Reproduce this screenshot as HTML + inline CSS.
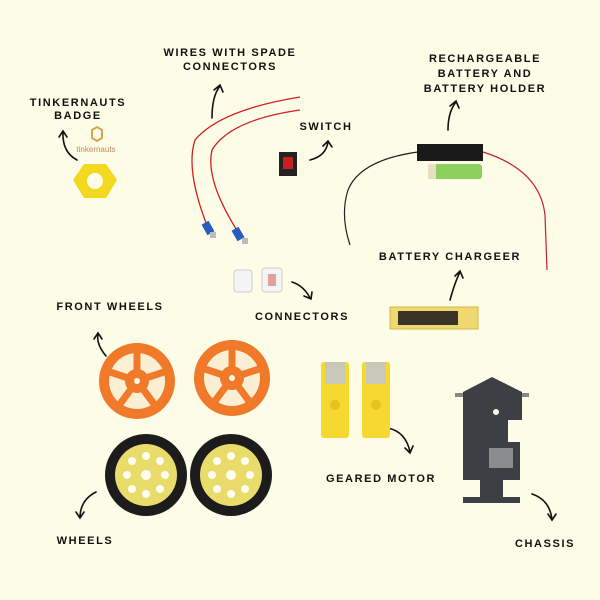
<!DOCTYPE html>
<html><head><style>
html,body{margin:0;padding:0;background:#fdfce6;}
svg{display:block}
text{font-family:"Liberation Sans",sans-serif;font-weight:bold;font-size:11px;letter-spacing:1.6px;fill:#111;text-anchor:middle}
.a{fill:none;stroke:#111;stroke-width:1.6;stroke-linecap:round}
</style></head><body>
<svg width="600" height="600" viewBox="0 0 600 600">
<rect width="600" height="600" fill="#fdfce6"/>
<text x="230" y="56">WIRES WITH SPADE</text>
<text x="230" y="70">CONNECTORS</text>
<text x="78" y="106">TINKERNAUTS</text>
<text x="78" y="119">BADGE</text>
<text x="326" y="130">SWITCH</text>
<text x="485" y="62">RECHARGEABLE</text>
<text x="485" y="77">BATTERY AND</text>
<text x="485" y="92">BATTERY HOLDER</text>
<text x="450" y="260">BATTERY CHARGEER</text>
<text x="110" y="310">FRONT WHEELS</text>
<text x="302" y="320">CONNECTORS</text>
<text x="381" y="482">GEARED MOTOR</text>
<text x="85" y="544">WHEELS</text>
<text x="545" y="547">CHASSIS</text>
<path class="a" d="M212 118 Q212 96 220 86 M214 90 L220 85 L223 92"/>
<path class="a" d="M77 160 Q62 152 63 132 M59 137 L63 131 L67 137"/>
<path class="a" d="M310 160 Q326 156 328 142 M323 146 L328 141 L332 147"/>
<path class="a" d="M448 130 Q448 112 456 102 M450 106 L456 101 L459 108"/>
<path class="a" d="M450 300 Q455 282 460 272 M455 276 L460 271 L463 278"/>
<path class="a" d="M292 282 Q304 286 310 298 M304 296 L311 299 L312 292"/>
<path class="a" d="M106 356 Q96 344 98 334 M94 339 L98 333 L102 339"/>
<path class="a" d="M388 428 Q406 432 410 452 M405 448 L410 453 L413 446"/>
<path class="a" d="M96 492 Q80 500 80 518 M76 512 L80 518 L84 512"/>
<path class="a" d="M532 494 Q550 500 552 520 M548 514 L552 520 L556 514"/>
<path d="M92 130 l5 -3 l5 3 v8 l-5 3 l-5 -3z" fill="none" stroke="#d9a455" stroke-width="2"/>
<text x="96" y="152" style="font-size:8px;font-weight:normal;letter-spacing:0;fill:#c58a5a">tinkernauts</text>
<polygon points="84,164 106,164 117,180 106,198 84,198 73,180" fill="#f3d820"/>
<circle cx="95" cy="181" r="8" fill="#fdfce6"/>
<path d="M300 97 Q220 110 195 140 Q185 170 208 228" fill="none" stroke="#d02020" stroke-width="1.3"/>
<path d="M300 110 Q230 120 212 150 Q205 180 238 232" fill="none" stroke="#d02020" stroke-width="1.3"/>
<rect x="204" y="222" width="8" height="12" fill="#2a5cc0" transform="rotate(-30 208 228)"/>
<rect x="234" y="228" width="8" height="12" fill="#2a5cc0" transform="rotate(-30 238 234)"/>
<rect x="210" y="232" width="6" height="6" fill="#bbb"/>
<rect x="242" y="238" width="6" height="6" fill="#bbb"/>
<rect x="279" y="152" width="18" height="24" fill="#222"/>
<rect x="283" y="157" width="10" height="12" fill="#c82020"/>
<path d="M418 152 Q360 160 348 190 Q340 215 350 245" fill="none" stroke="#222" stroke-width="1.2"/>
<path d="M483 152 Q540 170 545 215 L547 270" fill="none" stroke="#c02030" stroke-width="1.2"/>
<rect x="417" y="144" width="66" height="17" fill="#1a1a1a"/>
<rect x="428" y="164" width="54" height="15" rx="3" fill="#8ed060"/>
<rect x="428" y="164" width="8" height="15" fill="#e8e0c0"/>
<rect x="234" y="270" width="18" height="22" rx="3" fill="#f4f4f4" stroke="#ccc"/>
<rect x="262" y="268" width="20" height="24" rx="3" fill="#f4f4f4" stroke="#ccc"/>
<rect x="268" y="274" width="8" height="12" fill="#e0a0a0"/>
<rect x="390" y="307" width="88" height="22" fill="#f0d870" stroke="#d8b840"/>
<rect x="398" y="311" width="60" height="14" fill="#3a3428"/>
<g fill="#f07a2a"><circle cx="137" cy="381" r="38"/><circle cx="232" cy="378" r="38"/></g>
<g fill="#fdfce6" opacity="0.9"><circle cx="137" cy="381" r="28"/><circle cx="232" cy="378" r="28"/></g>
<g stroke="#f07a2a" stroke-width="7">
<path d="M137 381 v-28 M137 381 l27 -9 M137 381 l17 23 M137 381 l-17 23 M137 381 l-27 -9"/>
<path d="M232 378 v-28 M232 378 l27 -9 M232 378 l17 23 M232 378 l-17 23 M232 378 l-27 -9"/>
</g>
<circle cx="137" cy="381" r="12" fill="#f07a2a"/><circle cx="232" cy="378" r="12" fill="#f07a2a"/>
<circle cx="137" cy="381" r="3" fill="#fdfce6"/><circle cx="232" cy="378" r="3" fill="#fdfce6"/>
<circle cx="146" cy="475" r="41" fill="#1c1c1c"/><circle cx="146" cy="475" r="31" fill="#eadc6a"/>
<circle cx="231" cy="475" r="41" fill="#1c1c1c"/><circle cx="231" cy="475" r="31" fill="#eadc6a"/>
<g fill="#fdfdf0">
<circle cx="146" cy="475" r="5"/><circle cx="146" cy="456" r="4"/><circle cx="146" cy="494" r="4"/><circle cx="127" cy="475" r="4"/><circle cx="165" cy="475" r="4"/><circle cx="132" cy="461" r="4"/><circle cx="160" cy="461" r="4"/><circle cx="132" cy="489" r="4"/><circle cx="160" cy="489" r="4"/>
<circle cx="231" cy="475" r="5"/><circle cx="231" cy="456" r="4"/><circle cx="231" cy="494" r="4"/><circle cx="212" cy="475" r="4"/><circle cx="250" cy="475" r="4"/><circle cx="217" cy="461" r="4"/><circle cx="245" cy="461" r="4"/><circle cx="217" cy="489" r="4"/><circle cx="245" cy="489" r="4"/>
</g>
<rect x="321" y="362" width="28" height="76" rx="3" fill="#f5d830"/>
<rect x="362" y="362" width="28" height="76" rx="3" fill="#f5d830"/>
<rect x="325" y="362" width="20" height="22" fill="#c8c8b8"/>
<rect x="366" y="362" width="20" height="22" fill="#c8c8b8"/>
<circle cx="335" cy="405" r="5" fill="#e8c020"/><circle cx="376" cy="405" r="5" fill="#e8c020"/>
<rect x="455" y="393" width="10" height="4" fill="#888"/>
<rect x="520" y="393" width="9" height="4" fill="#888"/>
<path d="M463 392 L492 377 L522 392 L522 420 L508 420 L508 442 L520 442 L520 480 L503 480 L503 497 L520 497 L520 503 L463 503 L463 497 L480 497 L480 480 L463 480 Z" fill="#3c3f44"/>
<rect x="489" y="448" width="24" height="20" fill="#8a8c8e"/>
<circle cx="496" cy="412" r="3" fill="#fdfce6"/>
</svg>
</body></html>
